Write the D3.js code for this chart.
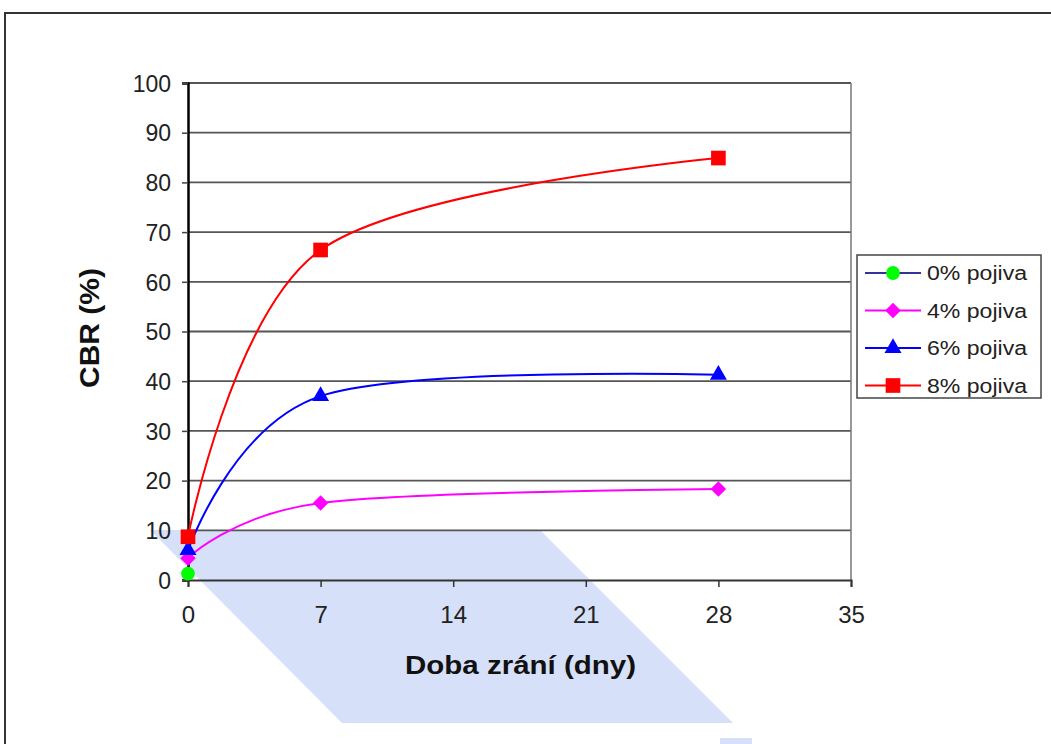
<!DOCTYPE html>
<html><head><meta charset="utf-8">
<script src="https://cdn.jsdelivr.net/npm/d3@7"></script>
<style>body{margin:0;background:#fff}svg{display:block}text{font-family:"Liberation Sans",Arial,sans-serif}</style>
</head><body>
<svg id="c" width="1051" height="744"></svg>
<script>
const days = [0, 7, 28];
const xTicks = [0, 7, 14, 21, 28, 35];
const yTicks = [0, 10, 20, 30, 40, 50, 60, 70, 80, 90, 100];
const seriesNames = ["0% pojiva", "4% pojiva", "6% pojiva", "8% pojiva"];
const s0 = [1.3];
const s4 = [4.4, 15.5, 18.3];
const s6 = [6.0, 37.0, 41.3];
const s8 = [8.7, 66.4, 84.9];
const lineColors = ["#333399", "#ff00ff", "#0000ff", "#ff0000"];
const markerColors = ["#00ff00", "#ff00ff", "#0000ff", "#ff0000"];
const seriesVals = [s0, s4, s6, s8];

const FONT = '"Liberation Sans",Arial,sans-serif';
const svg = d3.select("#c");
const x = d3.scaleLinear().domain([0, 35]).range([188, 851]);
const y = d3.scaleLinear().domain([0, 100]).range([580, 83]);

function marker(sel, i) {
  if (i === 0) sel.attr("d", d3.symbol().type(d3.symbolCircle).size(150)());
  else if (i === 1) sel.attr("d", d3.symbol().type(d3.symbolSquare).size(120)()).attr("data-rot", 45);
  else if (i === 2) sel.attr("d", d3.symbol().type(d3.symbolTriangle).size(125)());
  else sel.attr("d", d3.symbol().type(d3.symbolSquare).size(215)());
  return sel;
}

// watermark
svg.append("polygon")
  .attr("points", "150,530 540,530 733,723 342,723")
  .attr("fill", "#d6e0f8");
svg.append("rect").attr("x", 720).attr("y", 738).attr("width", 32).attr("height", 6).attr("fill", "#d6e0f8");

// outer frame
svg.append("path").attr("d", "M5,744 V13 H1051").attr("fill", "none").attr("stroke", "#333").attr("stroke-width", 2);

// gridlines
svg.append("g").selectAll("line").data(yTicks.filter(d => d > 0)).join("line")
  .attr("x1", x(0)).attr("x2", x(35)).attr("y1", d => y(d)).attr("y2", d => y(d))
  .attr("stroke", "#555").attr("stroke-width", 1.8);
svg.append("line").attr("x1", x(35)).attr("x2", x(35)).attr("y1", y(100)).attr("y2", y(0))
  .attr("stroke", "#777").attr("stroke-width", 1.5);

// axes
const yAxis = svg.append("g").attr("transform", `translate(${x(0)},0)`)
  .call(d3.axisLeft(y).tickValues(yTicks).tickSize(6).tickPadding(11));
yAxis.select(".domain").attr("stroke", "#000").attr("stroke-width", 2.5);
yAxis.selectAll(".tick line").attr("stroke", "#444").attr("stroke-width", 1.5);
yAxis.selectAll("text").attr("font-size", 23).attr("fill", "#222").style("font-family", FONT)
  .attr("dy", "0.36em");

const xAxis = svg.append("g").attr("transform", `translate(0,${y(0)})`)
  .call(d3.axisBottom(x).tickValues(xTicks).tickSize(7).tickPadding(19));
xAxis.select(".domain").attr("stroke", "#333").attr("stroke-width", 2);
xAxis.selectAll(".tick line").attr("stroke", "#333").attr("stroke-width", 1.5);
xAxis.selectAll("text").attr("font-size", 24).attr("fill", "#222").style("font-family", FONT);

// titles
svg.append("text").attr("x", 405).attr("y", 674)
  .attr("font-size", 26).attr("font-weight", "bold").attr("fill", "#111")
  .attr("textLength", 231).attr("lengthAdjust", "spacingAndGlyphs").text("Doba zrání (dny)");
svg.append("text").attr("transform", "translate(99,388) rotate(-90)")
  .attr("font-size", 28).attr("font-weight", "bold").attr("fill", "#111")
  .attr("textLength", 120).attr("lengthAdjust", "spacingAndGlyphs").text("CBR (%)");

// lines
const line = d3.line().x(d => x(d[0])).y(d => y(d[1])).curve(d3.curveCardinal.tension(0));
const plot = svg.append("g");
seriesVals.forEach((vals, i) => {
  const pts = vals.map((v, j) => [days[j], v]);
  if (pts.length > 1) {
    plot.append("path").attr("d", line(pts)).attr("fill", "none")
      .attr("stroke", lineColors[i]).attr("stroke-width", 2);
  }
});
[0, 1, 2, 3].forEach(i => {
  const pts = seriesVals[i].map((v, j) => [days[j], v]);
  plot.append("g").selectAll("path").data(pts).join("path")
    .call(s => marker(s, i))
    .attr("transform", d => `translate(${x(d[0])},${y(d[1])})` + (i === 1 ? " rotate(45)" : ""))
    .attr("fill", markerColors[i]);
});

// legend
const lg = svg.append("g");
lg.append("rect").attr("x", 857).attr("y", 255).attr("width", 184).attr("height", 143)
  .attr("fill", "#fff").attr("stroke", "#444").attr("stroke-width", 1.5);
seriesNames.forEach((name, i) => {
  const ly = 273 + i * 37.5;
  lg.append("line").attr("x1", 865).attr("x2", 921).attr("y1", ly).attr("y2", ly)
    .attr("stroke", lineColors[i]).attr("stroke-width", 2);
  lg.append("path").call(s => marker(s, i))
    .attr("transform", `translate(893,${ly})` + (i === 1 ? " rotate(45)" : ""))
    .attr("fill", markerColors[i]);
  lg.append("text").attr("x", 927).attr("y", ly + 7).attr("font-size", 20).attr("fill", "#222")
    .attr("textLength", 100).attr("lengthAdjust", "spacingAndGlyphs").text(name);
});
</script>
</body></html>
